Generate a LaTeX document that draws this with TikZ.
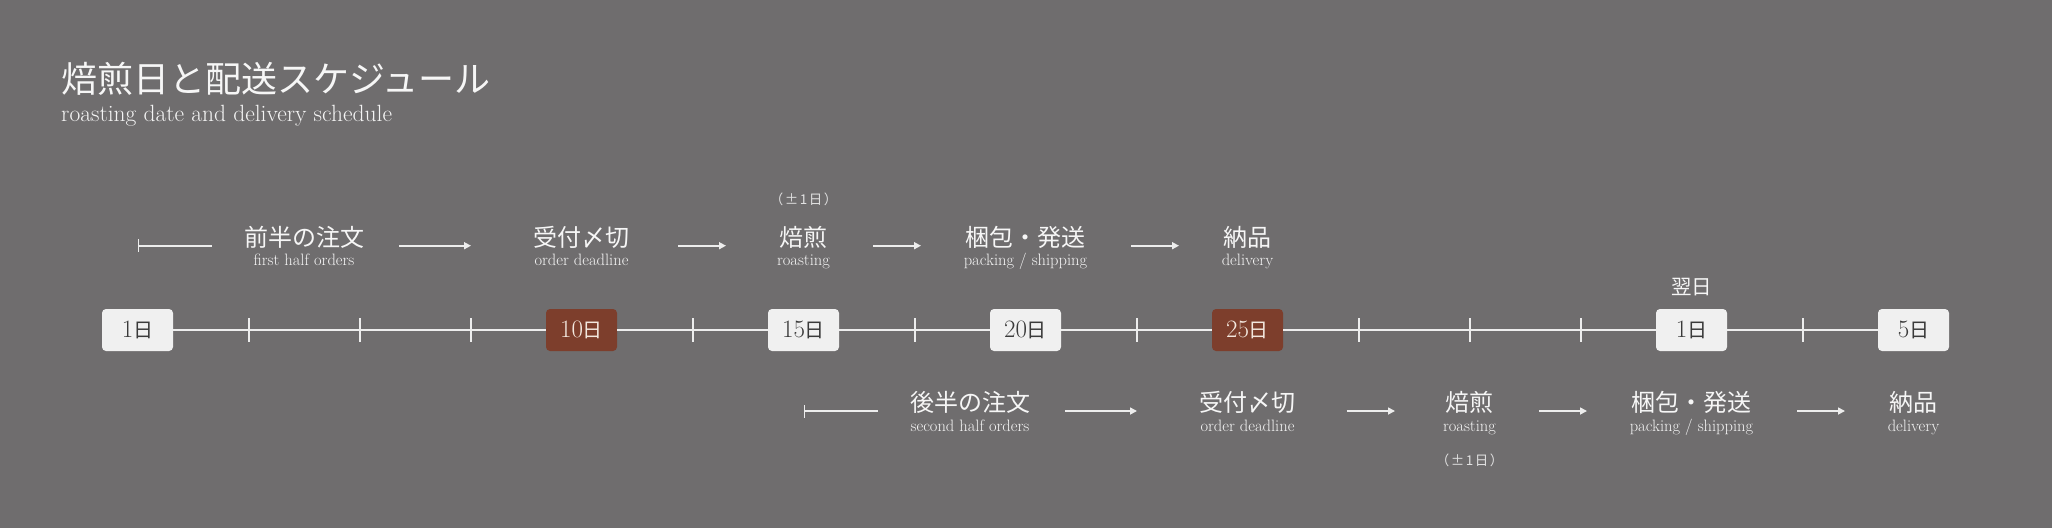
\documentclass[tikz,border=0pt]{standalone}
\usepackage{fontspec}
\newfontfamily\jp{Noto Sans CJK JP}
\usetikzlibrary{arrows.meta}
\definecolor{bgc}{HTML}{6F6D6E}
\definecolor{boxlight}{HTML}{F0F0F0}
\definecolor{boxtext}{HTML}{3A3A3A}
\definecolor{brownc}{HTML}{7D3E2C}
\definecolor{creamc}{HTML}{F3E8DF}
\definecolor{linec}{HTML}{EDEDED}
\definecolor{txtc}{HTML}{F6F6F6}
\definecolor{subc}{HTML}{F4F4F4}
\definecolor{notec}{HTML}{E2E2E2}
\newcommand\daynum[1]{{\fontsize{25}{28}\selectfont #1}{\jp\fontsize{20}{22}\selectfont 日}}
\tikzset{
  daybox/.style={fill=boxlight, rounded corners=4pt, minimum width=71pt, minimum height=42pt, inner sep=0pt, text=boxtext},
  hotbox/.style={daybox, fill=brownc, text=creamc},
  tl/.style={draw=linec, line width=2pt},
  flow/.style={draw=linec, line width=1.6pt, -{Triangle[length=7pt,width=7pt]}},
  startbar/.style={draw=linec, line width=1.6pt, {Bar[width=13pt,line width=1.6pt]}-},
  jplabel/.style={text=txtc, font=\jp\fontsize{24}{27}\selectfont, inner sep=0pt},
  enlabel/.style={text=subc, font=\fontsize{16.5}{19}\selectfont, inner sep=0pt, anchor=base},
  note/.style={text=notec, font=\jp\fontsize{13.5}{15}\selectfont, inner sep=0pt},
}
\newcommand\pmday{（\hspace{1.5pt}±\hspace{1.5pt}1\hspace{1.5pt}日\hspace{1.5pt}）}
\begin{document}
\begin{tikzpicture}[x=1pt,y=-1pt]
\fill[bgc] (0,0) rectangle (2052,528);
\useasboundingbox (0,0) rectangle (2052,528);
% title
\node[anchor=west, inner sep=0pt, text=txtc, font=\jp\fontsize{36}{40}\selectfont] (title) at (61,78.5) {焙煎日と配送スケジュール};
\node[anchor=base west, inner sep=0pt, text=subc, font=\fontsize{23.5}{26}\selectfont] (subtitle) at (61,121) {roasting date and delivery schedule};
% day boxes
\node[daybox] (b00) at (137.5,330) {\daynum{1}};
\node[hotbox] (b04) at (581.5,330) {\daynum{10}};
\node[daybox] (b06) at (803.5,330) {\daynum{15}};
\node[daybox] (b08) at (1025.5,330) {\daynum{20}};
\node[hotbox] (b10) at (1247.5,330) {\daynum{25}};
\node[daybox] (b14) at (1691.5,330) {\daynum{1}};
\node[daybox] (b16) at (1913.5,330) {\daynum{5}};
% timeline
\draw[tl] (b00.east) -- (b04.west) (b04.east) -- (b06.west) (b06.east) -- (b08.west)
  (b08.east) -- (b10.west) (b10.east) -- (b14.west) (b14.east) -- (b16.west);
\foreach \k in {1,2,3,5,7,9,11,12,13,15}{
  \draw[tl] (137.5+111*\k,318) -- (137.5+111*\k,342);
}
\node[text=txtc, font=\jp\fontsize{20.5}{23}\selectfont, inner sep=0pt] (nextday) at (1691.5,287) {翌日};
% upper flow
\node[jplabel] (u1) at (304,237.2) {前半の注文};
\node[enlabel] (u1e) at (304,265.5) {first half orders};
\node[jplabel] (u2) at (581.5,237.2) {受付〆切};
\node[enlabel] (u2e) at (581.5,265.5) {order deadline};
\node[jplabel] (u3) at (803.5,237.2) {焙煎};
\node[enlabel] (u3e) at (803.5,265.5) {roasting};
\node[note] (u3n) at (803.5,199) {\pmday};
\node[jplabel] (u4) at (1025.5,237.2) {梱包・発送};
\node[enlabel] (u4e) at (1025.5,265.5) {packing / shipping};
\node[jplabel] (u5) at (1247.5,237.2) {納品};
\node[enlabel] (u5e) at (1247.5,265.5) {delivery};
\coordinate (us0) at (137.5,245.7); \coordinate (us1) at (212,245.7);
\coordinate (ua1) at (399,245.7); \coordinate (ub1) at (471,245.7);
\coordinate (ua2) at (678,245.7); \coordinate (ub2) at (726,245.7);
\coordinate (ua3) at (873,245.7); \coordinate (ub3) at (921,245.7);
\coordinate (ua4) at (1131,245.7); \coordinate (ub4) at (1179,245.7);
\draw[startbar] (us0) -- (us1);
\draw[flow] (ua1) -- (ub1);
\draw[flow] (ua2) -- (ub2);
\draw[flow] (ua3) -- (ub3);
\draw[flow] (ua4) -- (ub4);
% lower flow
\node[jplabel] (l1) at (970,402.5) {後半の注文};
\node[enlabel] (l1e) at (970,431) {second half orders};
\node[jplabel] (l2) at (1247.5,402.5) {受付〆切};
\node[enlabel] (l2e) at (1247.5,431) {order deadline};
\node[jplabel] (l3) at (1469.5,402.5) {焙煎};
\node[enlabel] (l3e) at (1469.5,431) {roasting};
\node[note] (l3n) at (1469.5,460) {\pmday};
\node[jplabel] (l4) at (1691.5,402.5) {梱包・発送};
\node[enlabel] (l4e) at (1691.5,431) {packing / shipping};
\node[jplabel] (l5) at (1913.5,402.5) {納品};
\node[enlabel] (l5e) at (1913.5,431) {delivery};
\coordinate (ls0) at (803.5,411); \coordinate (ls1) at (878,411);
\coordinate (la1) at (1065,411); \coordinate (lb1) at (1137,411);
\coordinate (la2) at (1346.6,411); \coordinate (lb2) at (1395,411);
\coordinate (la3) at (1539,411); \coordinate (lb3) at (1587,411);
\coordinate (la4) at (1797,411); \coordinate (lb4) at (1845,411);
\draw[startbar] (ls0) -- (ls1);
\draw[flow] (la1) -- (lb1);
\draw[flow] (la2) -- (lb2);
\draw[flow] (la3) -- (lb3);
\draw[flow] (la4) -- (lb4);
\end{tikzpicture}
\end{document}
